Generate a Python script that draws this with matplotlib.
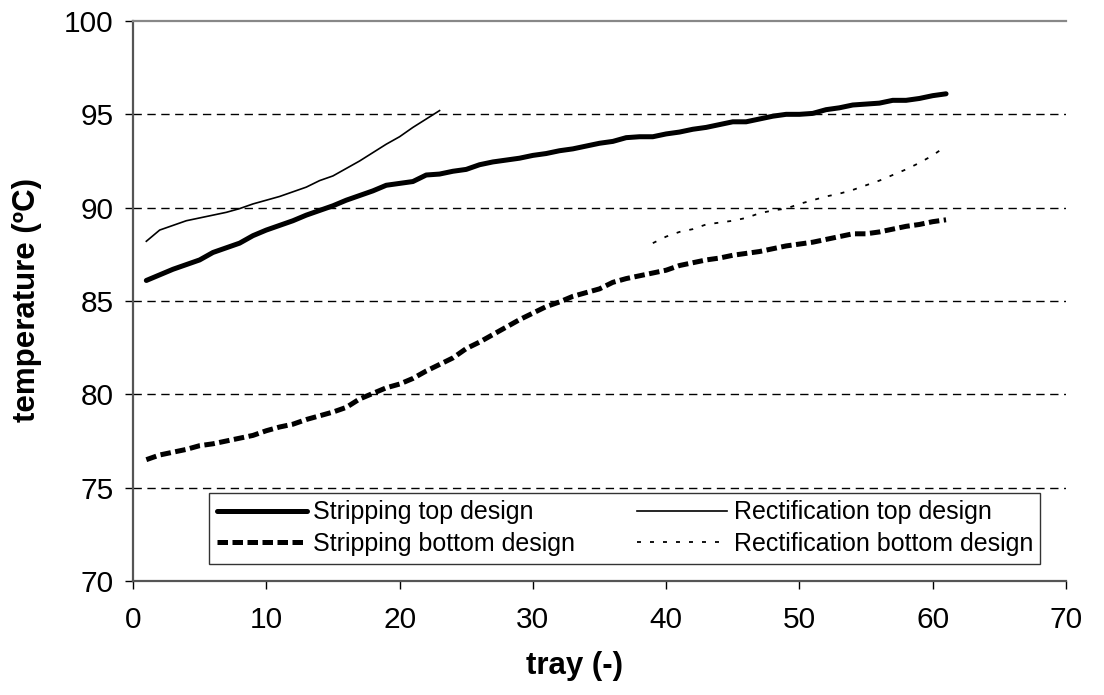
import matplotlib
matplotlib.use("Agg")
import matplotlib.pyplot as plt

plt.rcParams['font.family'] = ['Liberation Sans', 'DejaVu Sans']

# Tray numbers
trays_stripping = list(range(1, 62))
trays_rect_top = list(range(1, 24))
trays_rect_bottom = list(range(39, 62))

# Temperature profiles (ºC)
stripping_top = [
    86.1, 86.4, 86.7, 86.95, 87.2, 87.6, 87.85, 88.1, 88.5, 88.8,
    89.05, 89.3, 89.6, 89.85, 90.1, 90.4, 90.65, 90.9, 91.2, 91.3,
    91.4, 91.75, 91.8, 91.95, 92.05, 92.3, 92.45, 92.55, 92.65, 92.8,
    92.9, 93.05, 93.15, 93.3, 93.45, 93.55, 93.75, 93.8, 93.8, 93.95,
    94.05, 94.2, 94.3, 94.45, 94.6, 94.6, 94.75, 94.9, 95.0, 95.0,
    95.05, 95.25, 95.35, 95.5, 95.55, 95.6, 95.75, 95.75, 95.85, 96.0,
    96.1,
]
stripping_bottom = [
    76.5, 76.75, 76.9, 77.05, 77.25, 77.35, 77.5, 77.65, 77.8, 78.05,
    78.25, 78.4, 78.65, 78.85, 79.05, 79.3, 79.75, 80.05, 80.35, 80.55,
    80.85, 81.25, 81.6, 81.95, 82.45, 82.8, 83.2, 83.6, 84.0, 84.35,
    84.7, 84.95, 85.25, 85.45, 85.65, 86.0, 86.2, 86.35, 86.5, 86.65,
    86.9, 87.05, 87.2, 87.3, 87.45, 87.55, 87.65, 87.8, 87.95, 88.05,
    88.15, 88.3, 88.45, 88.6, 88.6, 88.7, 88.85, 89.0, 89.1, 89.25,
    89.35,
]
rectification_top = [
    88.2, 88.8, 89.05, 89.3, 89.45, 89.6, 89.75, 89.95, 90.2, 90.4,
    90.6, 90.85, 91.1, 91.45, 91.7, 92.1, 92.5, 92.95, 93.4, 93.8,
    94.3, 94.75, 95.2,
]
rectification_bottom = [
    88.1, 88.45, 88.7, 88.85, 89.1, 89.2, 89.3, 89.45, 89.7, 89.85,
    89.95, 90.2, 90.4, 90.6, 90.75, 90.95, 91.2, 91.45, 91.75, 92.05,
    92.4, 92.8, 93.3,
]

label_strip_top = "Stripping top design"
label_rect_top = "Rectification top design"
label_strip_bottom = "Stripping bottom design"
label_rect_bottom = "Rectification bottom design"

x_ticks = list(range(0, 71, 10))
y_ticks = list(range(70, 101, 5))

W, H = 1104, 695
x0, x1, ytop, ybot = 133, 1066, 21, 581

fig = plt.figure(figsize=(W / 100, H / 100), dpi=100)
ax = fig.add_axes([x0 / W, 1 - ybot / H, (x1 - x0) / W, (ybot - ytop) / H])

ax.set_xlim(0, 70)
ax.set_ylim(70, 100)

# horizontal dashed grid
for yv in y_ticks[1:-1]:
    ax.axhline(yv, color='black', lw=1.0, linestyle=(0, (6, 4)), zorder=1)

l1, = ax.plot(trays_stripping, stripping_top, color='black', lw=3.6,
              solid_capstyle='round', solid_joinstyle='round', zorder=3)
l3, = ax.plot(trays_stripping, stripping_bottom, color='black', lw=3.6,
              linestyle=(0, (2.1, 0.9)), dash_capstyle='butt', zorder=3)
l2, = ax.plot(trays_rect_top, rectification_top, color='black', lw=1.2, zorder=3)
l4, = ax.plot(trays_rect_bottom, rectification_bottom, color='black', lw=1.3,
              linestyle=(0, (2.2, 5.0)), zorder=3)

ax.set_xticks(x_ticks)
ax.set_yticks(y_ticks)
ax.tick_params(axis='both', direction='out', length=6, width=1.0, colors='black',
               labelsize=21.5)
ax.tick_params(axis='x', pad=12)
ax.tick_params(axis='y', pad=8)
for side in ('left', 'bottom'):
    ax.spines[side].set_color('#555555')
    ax.spines[side].set_linewidth(1.6)
ax.spines['top'].set_color('#888888')
ax.spines['top'].set_linewidth(1.6)
ax.spines['right'].set_visible(False)

ax.set_xlabel("tray (-)", fontsize=22.5, fontweight='bold')
ax.set_ylabel("temperature (ºC)", fontsize=22.5, fontweight='bold')
ax.xaxis.set_label_coords((575 - x0) / (x1 - x0), (ybot - 666) / (ybot - ytop))
ax.yaxis.set_label_coords((27 - x0) / (x1 - x0), (ybot - 300) / (ybot - ytop))
ax.xaxis.label.set_va('center')
ax.yaxis.label.set_va('center')

leg = ax.legend([l1, l3, l2, l4],
                [label_strip_top, label_strip_bottom, label_rect_top, label_rect_bottom],
                ncol=2, loc='upper left',
                bbox_to_anchor=((209 - x0) / (x1 - x0), (ybot - 493) / (ybot - ytop)),
                frameon=True, fancybox=False, fontsize=18, handlelength=3.6,
                handletextpad=0.25, columnspacing=2.5, borderpad=0.3,
                labelspacing=0.3, borderaxespad=0)
leg.get_frame().set_edgecolor('black')
leg.get_frame().set_linewidth(1.0)

fig.savefig("out.png", dpi=100)
